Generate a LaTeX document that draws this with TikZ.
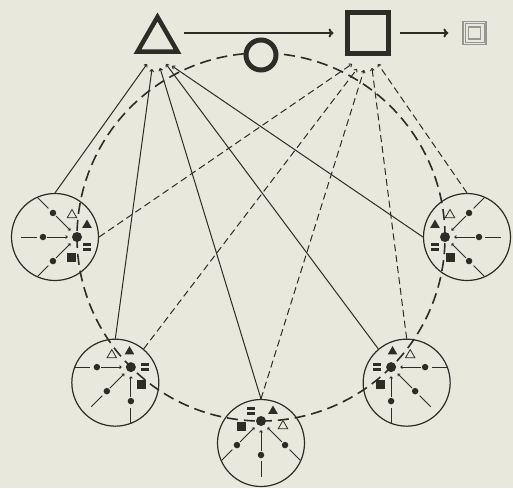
\documentclass[tikz,border=0pt]{standalone}
\usetikzlibrary{arrows.meta,shapes.geometric}
\definecolor{paper}{RGB}{232,232,220}
\definecolor{ink}{RGB}{45,45,40}
\newcommand{\bigR}{184}
% one small group sitting on the big ring: name, angle, mirror (1 or -1)
\newcommand{\cluster}[3]{
  \begin{scope}[shift={(#2:\bigR)}, rotate=#2-180, yscale=#3]
    \node[ringbox] (#1) at (-22,0) {};
    \node[hub] (#1h) at (0,0) {};
    \foreach \a/\k in {135/1,180/2,225/3}{
      \coordinate (#1o\k) at (\a:56);
      \node[spokedot] (#1d\k) at (\a:34) {};
      \draw[spoke, shorten >=3pt] (#1o\k) -- (#1d\k);
      \draw[spoke, shorten <=1pt, shorten >=4pt, -{To[length=2.5pt,width=3.5pt]}] (#1d\k) -- (#1h);
    }
    \node[opentri] (#1a) at (-5,22) {};
    \node[filltri] (#1b) at (10,12) {};
    \node[dbar] (#1c) at (10,-10) {};
    \node[fillsq] (#1s) at (-5,-20) {};
  \end{scope}
}

\begin{document}
\begin{tikzpicture}[x=1pt, y=1pt, ink, draw=ink,
    ringbox/.style={circle, draw=ink, line width=1.2pt, minimum size=87pt, inner sep=0pt},
    hub/.style={circle, fill=ink, minimum size=10pt, inner sep=0pt},
    spokedot/.style={circle, fill=ink, minimum size=6.5pt, inner sep=0pt},
    spoke/.style={line width=0.9pt},
    opentri/.style={regular polygon, regular polygon sides=3, draw=ink, line width=0.8pt, minimum size=11pt, inner sep=0pt},
    filltri/.style={regular polygon, regular polygon sides=3, fill=ink, minimum size=11pt, inner sep=0pt},
    fillsq/.style={rectangle, fill=ink, minimum size=9pt, inner sep=0pt},
    dbar/.style={rectangle, minimum width=8pt, minimum height=8pt, inner sep=0pt,
      path picture={
        \fill[ink] (path picture bounding box.north west) rectangle ([yshift=1pt]path picture bounding box.east);
        \fill[ink] ([yshift=-1pt]path picture bounding box.west) rectangle (path picture bounding box.south east);
      }},
    greybox/.style={rectangle, draw=ink!50, inner sep=0pt},
    solidlink/.style={line width=1pt, -{To[length=3pt,width=4.5pt]}},
    dashlink/.style={line width=1pt, dash pattern=on 7pt off 4pt, -{To[length=3pt,width=4.5pt]}},
    toparrow/.style={line width=2pt, -{To[length=5pt,width=9pt]}}]

  % paper and frame
  \fill[paper] (-261,-251) rectangle (252,237);
  \useasboundingbox (-261,-251) rectangle (252,237);

  % the big dashed ring
  \coordinate (O) at (0,0);
  \draw[line width=1.6pt, dash pattern=on 11pt off 6pt] (O) circle (\bigR);

  % five small groups
  \cluster{cL}{180}{1}
  \cluster{cLL}{225}{1}
  \cluster{cB}{270}{-1}
  \cluster{cLR}{315}{-1}
  \cluster{cR}{360}{-1}

  % top row
  \node[regular polygon, regular polygon sides=3, draw=ink, line width=4.5pt, minimum size=46pt, inner sep=0pt] (tri) at (-103.5,197) {};
  \node[rectangle, draw=ink, line width=5pt, minimum size=41pt, inner sep=0pt] (sq) at (106.5,204) {};
  \node[greybox, line width=1.2pt, minimum size=23pt] (dsq) at (213.5,204) {};
  \node[greybox, line width=0.7pt, minimum size=19pt] (dsqm) at (dsq) {};
  \node[greybox, line width=1.2pt, minimum size=12pt] (dsqi) at (dsq) {};
  \node[circle, draw=ink, fill=paper, line width=5pt, minimum size=30pt, inner sep=0pt] (ring) at (90:\bigR-2) {};

  \draw[toparrow, shorten <=11pt, shorten >=11pt] (tri.east |- sq.west) -- (sq.west);
  \draw[toparrow, shorten <=9pt, shorten >=14pt] (sq.east) -- (dsq.west);

  % arrow ends under the triangle and the square
  \coordinate (t1) at (-114,173);
  \coordinate (t2) at (-109,168);
  \coordinate (t3) at (-101,169);
  \coordinate (t4) at (-95,173);
  \coordinate (t5) at (-89,171);
  \coordinate (s1) at (91,173);
  \coordinate (s2) at (96,168);
  \coordinate (s3) at (103,167);
  \coordinate (s4) at (111,169);
  \coordinate (s5) at (117,173);

  % solid links to the triangle
  \draw[solidlink] (cL.north) -- (t1);
  \draw[solidlink] (cLL.north) -- (t2);
  \draw[solidlink] (cB.north) -- (t3);
  \draw[solidlink] (cLR.130) -- (t4);
  \draw[solidlink] (cR.west) -- (t5);

  % dashed links to the square
  \draw[dashlink] (cL.east) -- (s1);
  \draw[dashlink] (cLL.50) -- (s2);
  \draw[dashlink] (cB.north) -- (s3);
  \draw[dashlink] (cLR.north) -- (s4);
  \draw[dashlink] (cR.north) -- (s5);

\end{tikzpicture}
\end{document}
